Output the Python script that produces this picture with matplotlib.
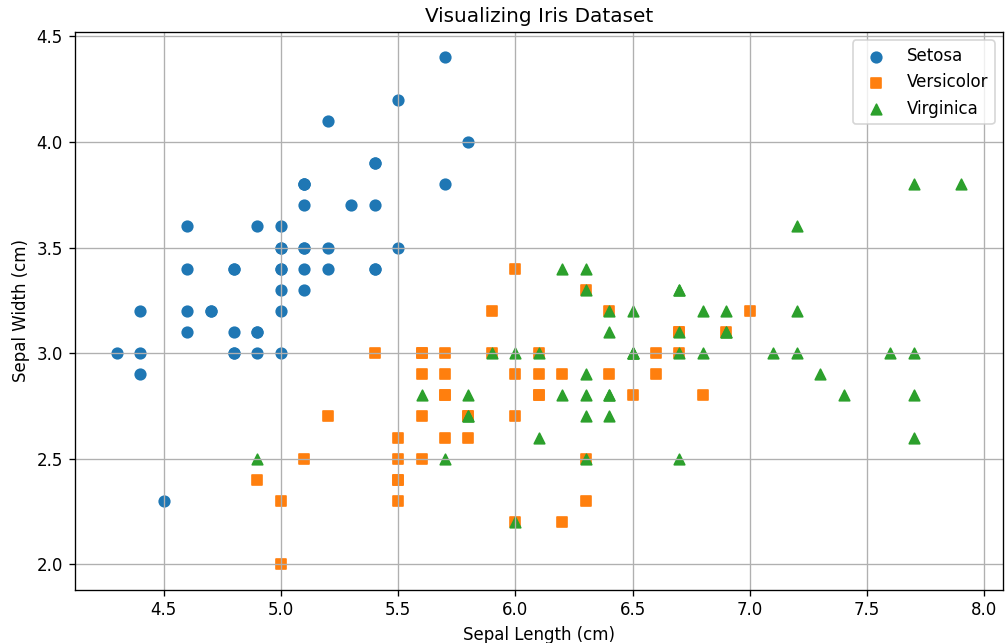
import matplotlib
matplotlib.use("Agg")
import matplotlib.pyplot as plt

# Iris sepal measurements, per species
setosa_length = [5.1, 4.9, 4.7, 4.6, 5.0, 5.4, 4.6, 5.0, 4.4, 4.9, 5.4, 4.8, 4.8, 4.3, 5.8, 5.7, 5.4,
                 5.1, 5.7, 5.1, 5.4, 5.1, 4.6, 5.1, 4.8, 5.0, 5.0, 5.2, 5.2, 4.7, 4.8, 5.4, 5.2, 5.5,
                 4.9, 5.0, 5.5, 4.9, 4.4, 5.1, 5.0, 4.5, 4.4, 5.0, 5.1, 4.8, 5.1, 4.6, 5.3, 5.0]
setosa_width = [3.5, 3.0, 3.2, 3.1, 3.6, 3.9, 3.4, 3.4, 2.9, 3.1, 3.7, 3.4, 3.0, 3.0, 4.0, 4.4, 3.9,
                3.5, 3.8, 3.8, 3.4, 3.7, 3.6, 3.3, 3.4, 3.0, 3.4, 3.5, 3.4, 3.2, 3.1, 3.4, 4.1, 4.2,
                3.1, 3.2, 3.5, 3.6, 3.0, 3.4, 3.5, 2.3, 3.2, 3.5, 3.8, 3.0, 3.8, 3.2, 3.7, 3.3]

versicolor_length = [7.0, 6.4, 6.9, 5.5, 6.5, 5.7, 6.3, 4.9, 6.6, 5.2, 5.0, 5.9, 6.0, 6.1, 5.6, 6.7,
                     5.6, 5.8, 6.2, 5.6, 5.9, 6.1, 6.3, 6.1, 6.4, 6.6, 6.8, 6.7, 6.0, 5.7, 5.5, 5.5,
                     5.8, 6.0, 5.4, 6.0, 6.7, 6.3, 5.6, 5.5, 5.5, 6.1, 5.8, 5.0, 5.6, 5.7, 5.7, 6.2,
                     5.1, 5.7]
versicolor_width = [3.2, 3.2, 3.1, 2.3, 2.8, 2.8, 3.3, 2.4, 2.9, 2.7, 2.0, 3.0, 2.2, 2.9, 2.9, 3.1,
                    3.0, 2.7, 2.2, 2.5, 3.2, 2.8, 2.5, 2.8, 2.9, 3.0, 2.8, 3.0, 2.9, 2.6, 2.4, 2.4,
                    2.7, 2.7, 3.0, 3.4, 3.1, 2.3, 3.0, 2.5, 2.6, 3.0, 2.6, 2.3, 2.7, 3.0, 2.9, 2.9,
                    2.5, 2.8]

virginica_length = [6.3, 5.8, 7.1, 6.3, 6.5, 7.6, 4.9, 7.3, 6.7, 7.2, 6.5, 6.4, 6.8, 5.7, 5.8, 6.4,
                    6.5, 7.7, 7.7, 6.0, 6.9, 5.6, 7.7, 6.3, 6.7, 7.2, 6.2, 6.1, 6.4, 7.2, 7.4, 7.9,
                    6.4, 6.3, 6.1, 7.7, 6.3, 6.4, 6.0, 6.9, 6.7, 6.9, 5.8, 6.8, 6.7, 6.7, 6.3, 6.5,
                    6.2, 5.9]
virginica_width = [3.3, 2.7, 3.0, 2.9, 3.0, 3.0, 2.5, 2.9, 2.5, 3.6, 3.2, 2.7, 3.0, 2.5, 2.8, 3.2,
                   3.0, 3.8, 2.6, 2.2, 3.2, 2.8, 2.8, 2.7, 3.3, 3.2, 2.8, 3.0, 2.8, 3.0, 2.8, 3.8,
                   2.8, 2.8, 2.6, 3.0, 3.4, 3.1, 3.0, 3.1, 3.1, 3.1, 2.7, 3.2, 3.3, 3.0, 2.5, 3.0,
                   3.4, 3.0]

fig, ax = plt.subplots(figsize=(8.4, 643 / 120), dpi=120)
fig.subplots_adjust(left=0.074, right=0.995, top=0.950, bottom=0.083)

ax.scatter(setosa_length, setosa_width, marker="o", s=40, label="Setosa")
ax.scatter(versicolor_length, versicolor_width, marker="s", s=40, label="Versicolor")
ax.scatter(virginica_length, virginica_width, marker="^", s=40, label="Virginica")

ax.set_title("Visualizing Iris Dataset")
ax.set_xlabel("Sepal Length (cm)")
ax.set_ylabel("Sepal Width (cm)")
ax.legend(loc="upper right")
ax.grid(True)

fig.savefig("out.png", dpi=120)
